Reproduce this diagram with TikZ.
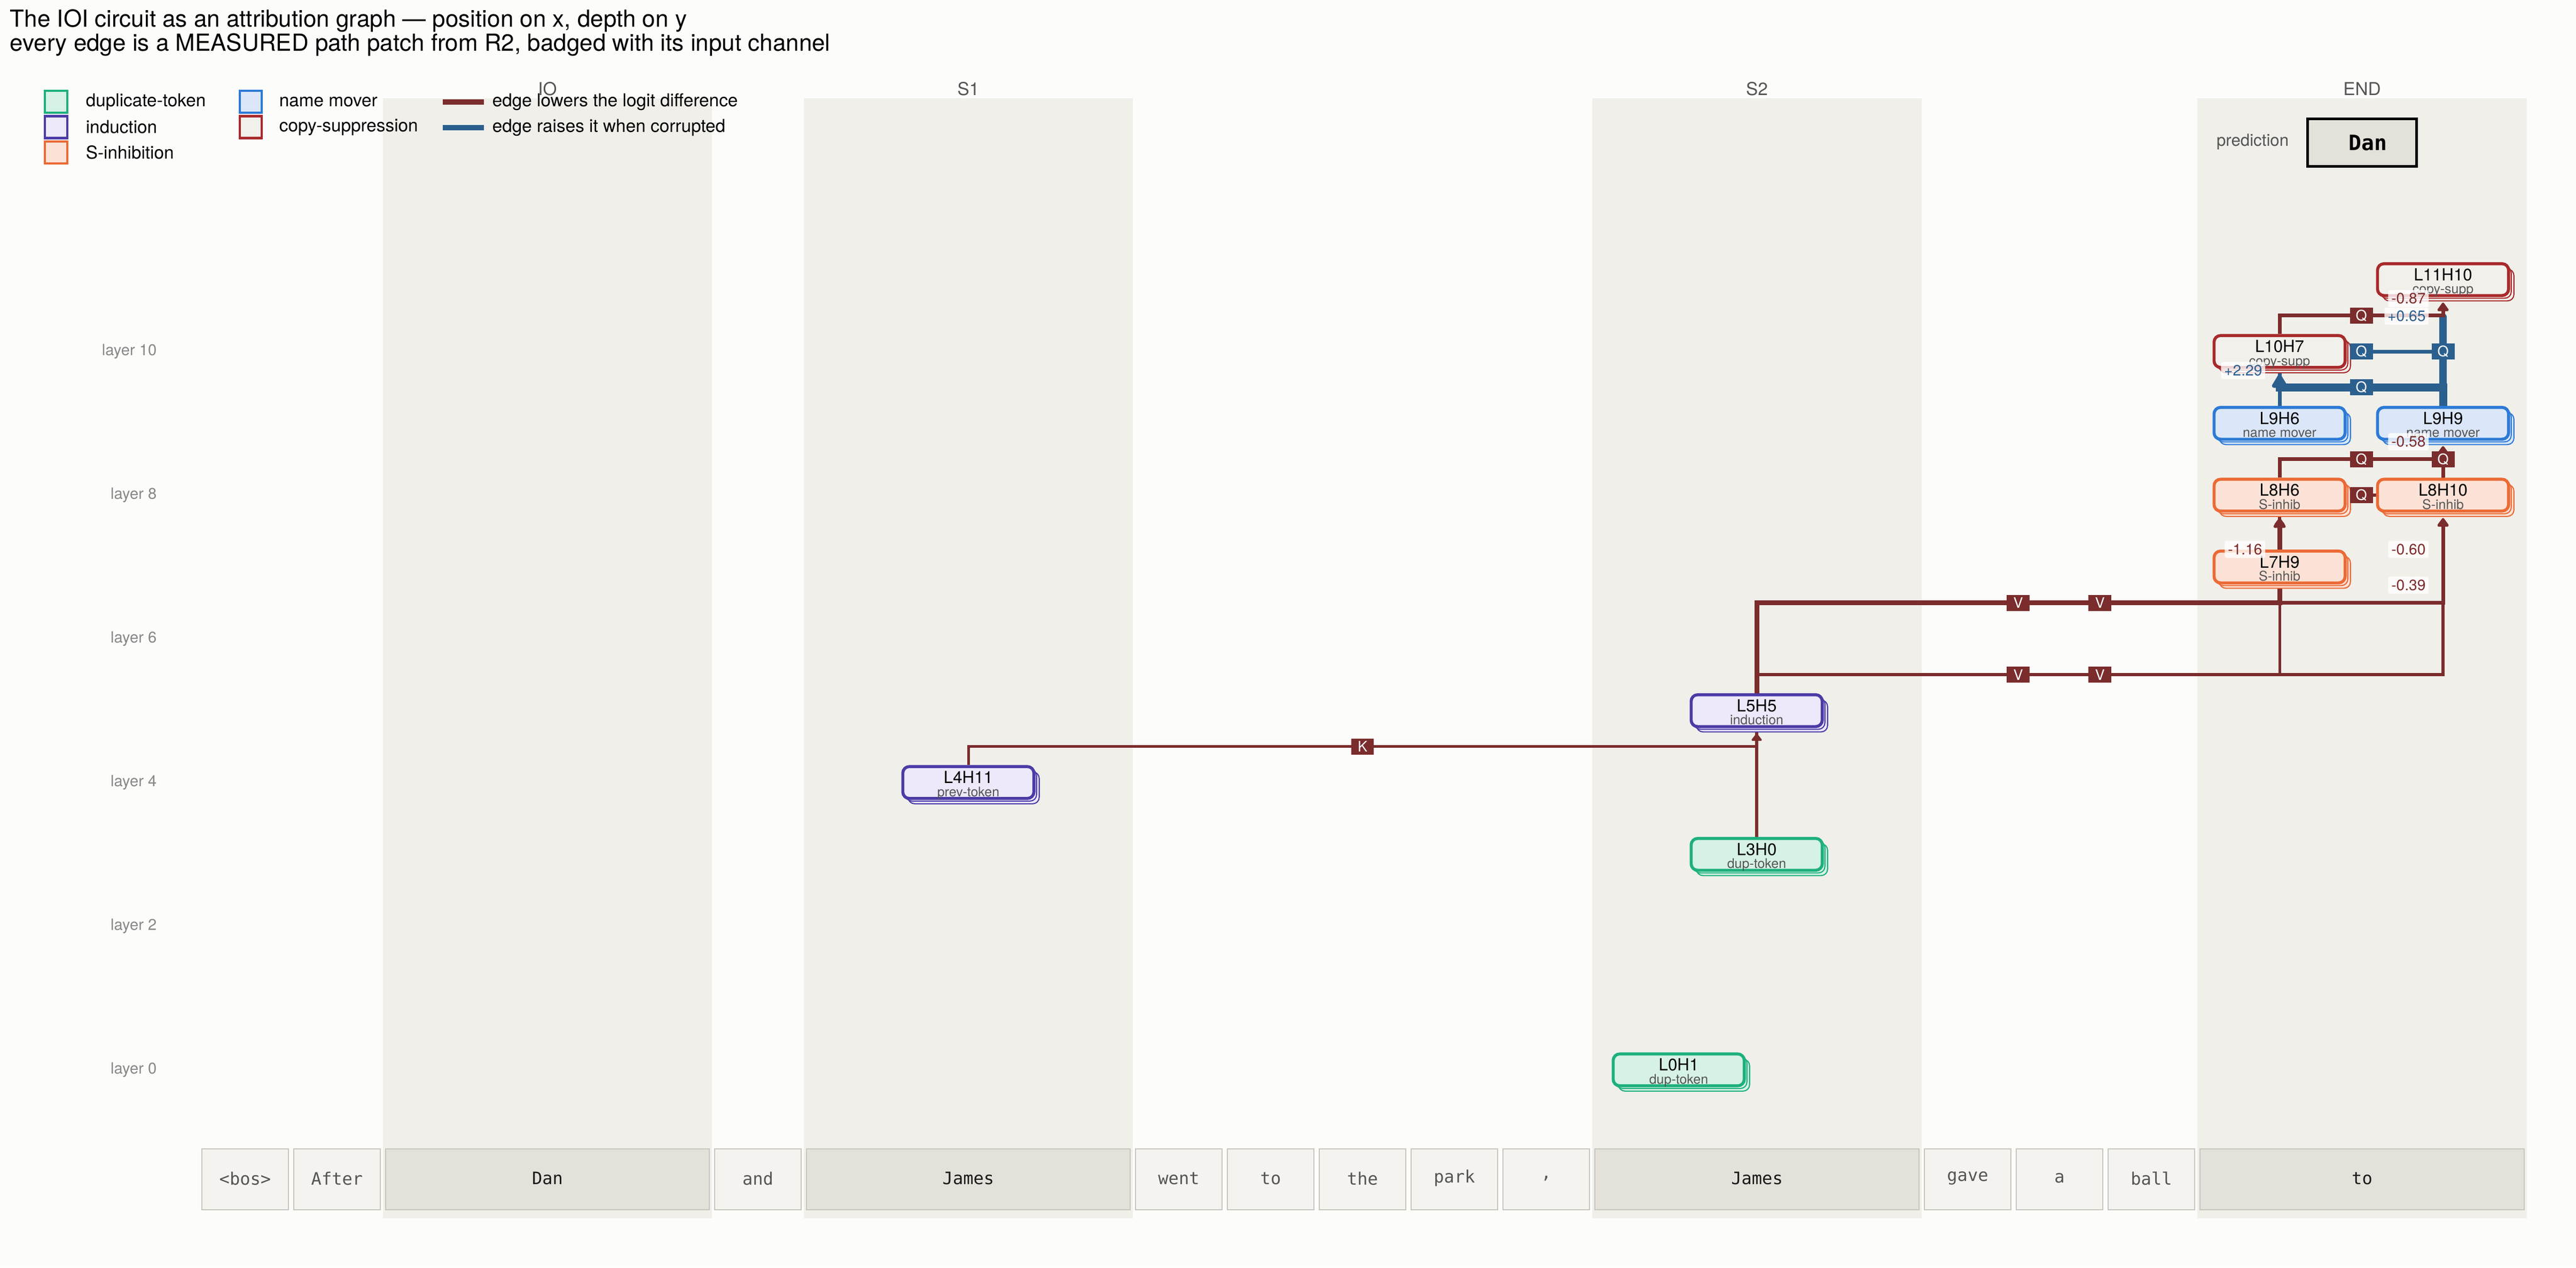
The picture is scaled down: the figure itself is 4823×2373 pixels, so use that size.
\documentclass[tikz,border=0pt]{standalone}
\usepackage{fontspec}
\setmainfont{TeX Gyre Heros}
\setmonofont{DejaVu Sans Mono}
\usetikzlibrary{calc,arrows.meta,shadows}

\definecolor{paper}{HTML}{FCFCFA}
\definecolor{band}{HTML}{F0EFEA}
\definecolor{tokfill}{HTML}{F4F3EF}
\definecolor{tokwide}{HTML}{E3E1D9}
\definecolor{tokline}{HTML}{C8C6BC}
\definecolor{inkgrey}{HTML}{555555}
\definecolor{inkdark}{HTML}{1A1A1A}
\definecolor{layergrey}{HTML}{888888}
\definecolor{edgered}{HTML}{7B2C2C}
\definecolor{edgeblue}{HTML}{2B5F8E}
\definecolor{dupline}{HTML}{1DB07D}
\definecolor{dupfill}{HTML}{D6F1E5}
\definecolor{indline}{HTML}{4B3BA6}
\definecolor{indfill}{HTML}{EDE8FA}
\definecolor{sinhline}{HTML}{EB6A35}
\definecolor{sinhfill}{HTML}{FCE2D6}
\definecolor{nmline}{HTML}{2C7AD6}
\definecolor{nmfill}{HTML}{DBE7F8}
\definecolor{csline}{HTML}{A8292B}
\definecolor{csfill}{HTML}{F2F0EB}
\definecolor{predfill}{HTML}{E4E1DA}

\newcommand{\fsz}[1]{\fontsize{#1}{#1}\selectfont}

\pgfdeclarelayer{bands}
\pgfdeclarelayer{edges}
\pgfdeclarelayer{fg}
\pgfsetlayers{bands,edges,main,fg}

\tikzset{
  headbox/.style={draw=#1line, fill=#1fill, line width=1.35pt, rounded corners=2.9pt,
    minimum width=58.9pt, minimum height=14.3pt, inner sep=0pt,
    general shadow={shadow xshift=2.4pt, shadow yshift=-2.4pt, draw=#1line, fill=#1fill, line width=0.5pt},
    general shadow={shadow xshift=1.2pt, shadow yshift=-1.2pt, draw=#1line, fill=#1fill, line width=0.5pt}},
  headname/.style={font=\fsz{7.5}, text=black, inner sep=0pt, anchor=base},
  headrole/.style={font=\fsz{6}, text=inkgrey, inner sep=0pt, anchor=base},
  badge/.style={fill=#1, text=white, font=\fsz{6.5}, minimum width=10.3pt, minimum height=7.2pt, inner sep=0pt},
  val/.style={fill=white, fill opacity=0.8, text opacity=1, text=#1, font=\fsz{6.75},
    rounded corners=0.8pt, inner xsep=1.4pt, inner ysep=0pt, minimum height=7.7pt, anchor=east},
  arrowin/.style={-{Triangle[round,length=1.9pt 1.4,width=4.1pt 1]}, shorten >=2.5pt},
  stubin/.style={line cap=round, shorten >=9pt},
  tokn/.style={draw=tokline, fill=tokfill, line width=0.48pt},
  tokw/.style={draw=tokline, fill=tokwide, line width=0.48pt},
  toktextn/.style={font=\ttfamily\fsz{7.7}, text=inkgrey},
  toktextw/.style={font=\ttfamily\fsz{7.7}, text=inkdark},
  colhead/.style={font=\fsz{8}, text=inkgrey},
  layerlab/.style={font=\fsz{7}, text=layergrey, anchor=east},
  legtext/.style={font=\fsz{8}, text=black, anchor=west, inner sep=0pt}
}

% one attention head: box with two copies behind, name and role
\newcommand{\headnode}[5]{%
  \node[headbox=#4] (#1) at (#2,#3) {};
  \node[headname] (#1n) at ([yshift=-0.36pt]#1.center) {#1};
  \node[headrole] (#1r) at ([yshift=-6.3pt]#1.center) {#5};
}

% one measured edge: up, across, up; channel badge at the middle
\newcommand{\attedge}[6]{%
  \begin{pgfonlayer}{edges}
    \draw[draw=#1, line width=#2*0.24pt, #6] (#3.north) |- ($(#3.north)!0.5!(#4.south)$) -| (#4.south);
  \end{pgfonlayer}
  \begin{pgfonlayer}{fg}
    \node[badge=#1] (b#3#4) at ($(#3.north)!0.5!(#4.south)$) {#5};
  \end{pgfonlayer}
}

\begin{document}
\begin{tikzpicture}[x=0.24pt, y=-0.24pt]
  %%%%% START %%%%%
  \useasboundingbox (0,0) rectangle (4823,2373);

  \begin{pgfonlayer}{bands}
    \fill[paper] (0,0) rectangle (4823,2373);
    \foreach \l/\r/\h [count=\i] in {717/1333/IO, 1505/2121/S1, 2981/3598/S2, 4114/4731/END} {
      \fill[band] (\l,184) rectangle (\r,2281);
      \node[colhead] (col\i) at ({(\l+\r)/2},166) {\h};
    }
  \end{pgfonlayer}

  % title
  \node[anchor=base west, font=\fsz{10.55}, inner sep=0pt] (title1) at (18,50)
    {The IOI circuit as an attribution graph — position on x, depth on y};
  \node[anchor=base west, font=\fsz{10.55}, inner sep=0pt] (title2) at (18,95)
    {every edge is a MEASURED path patch from R2, badged with its input channel};

  % legend
  \foreach \c/\t/\y [count=\i] in {dup/duplicate-token/190.5, ind/induction/238, sinh/S-inhibition/285.5} {
    \draw[draw=\c line, fill=\c fill, line width=1pt] (84,\y-20.5) rectangle (126,\y+20.5);
    \node[legtext] (lega\i) at (160,\y) {\t};
  }
  \foreach \c/\t/\y [count=\i] in {nm/name mover/190.5, cs/copy-suppression/238} {
    \draw[draw=\c line, fill=\c fill, line width=1pt] (449,\y-20.5) rectangle (490,\y+20.5);
    \node[legtext] (legb\i) at (522,\y) {\t};
  }
  \draw[edgered, line width=2.4pt] (829,191) -- (906,191);
  \node[legtext] (legc1) at (921,191) {edge lowers the logit difference};
  \draw[edgeblue, line width=2.4pt] (829,239) -- (906,239);
  \node[legtext] (legc2) at (921,239) {edge raises it when corrupted};

  % depth axis
  \foreach \L in {0,2,...,10}
    \node[layerlab] (lay\L) at (308,{2003-134.5*\L}) {layer \L};

  % prediction
  \node[font=\fsz{7.5}, text=inkgrey, anchor=east, inner sep=0pt] (predlab) at (4286,265) {prediction};
  \node[draw=black, fill=predfill, line width=1.2pt, minimum width=49pt, minimum height=21.4pt] (pred) at (4422.5,267) {};
  \node[font=\ttfamily\bfseries\fsz{9.5}, inner sep=0pt] (predtext) at ([xshift=2.6pt]pred.center) {Dan};

  % tokens
  \foreach \l/\r/\t/\k [count=\i] in {373/545/{<bos>}/n, 545/717/After/n, 717/1333/Dan/w,
      1333/1505/and/n, 1505/2121/James/w, 2121/2293/went/n, 2293/2465/to/n, 2465/2637/the/n,
      2637/2809/park/n, 2809/2981/{,}/n, 2981/3598/James/w, 3598/3770/gave/n, 3770/3942/a/n,
      3942/4114/ball/n, 4114/4731/to/w} {
    \draw[tok\k] (\l+5,2151) rectangle (\r-5,2265);
    \node[toktext\k] (tok\i) at ({(\l+\r)/2},2206) {\t};
  }

  % heads
  \headnode{L0H1}{3143}{2003}{dup}{dup-token}
  \headnode{L3H0}{3289}{1599.5}{dup}{dup-token}
  \headnode{L4H11}{1813}{1465}{ind}{prev-token}
  \headnode{L5H5}{3289}{1330.5}{ind}{induction}
  \headnode{L7H9}{4268}{1061.5}{sinh}{S-inhib}
  \headnode{L8H6}{4268}{927}{sinh}{S-inhib}
  \headnode{L8H10}{4574}{927}{sinh}{S-inhib}
  \headnode{L9H6}{4268}{792.5}{nm}{name mover}
  \headnode{L9H9}{4574}{792.5}{nm}{name mover}
  \headnode{L10H7}{4268}{658}{cs}{copy-supp}
  \headnode{L11H10}{4574}{523.5}{cs}{copy-supp}

  % edges, blue under red
  \attedge{edgeblue}{15}{L9H9}{L10H7}{Q}{arrowin}
  \attedge{edgeblue}{7}{L9H6}{L11H10}{Q}{stubin}
  \attedge{edgeblue}{14}{L9H9}{L11H10}{Q}{stubin}
  \attedge{edgered}{5}{L4H11}{L5H5}{K}{arrowin}
  \attedge{edgered}{5}{L3H0}{L8H6}{V}{arrowin}
  \attedge{edgered}{6}{L3H0}{L8H10}{V}{arrowin}
  \attedge{edgered}{9}{L5H5}{L8H6}{V}{arrowin}
  \attedge{edgered}{7}{L5H5}{L8H10}{V}{arrowin}
  \attedge{edgered}{6}{L7H9}{L9H9}{Q}{arrowin}
  \attedge{edgered}{7}{L8H6}{L9H9}{Q}{arrowin}
  \attedge{edgered}{7}{L8H10}{L9H9}{Q}{arrowin}
  \attedge{edgered}{7}{L10H7}{L11H10}{Q}{arrowin}

  % measured effects
  \begin{pgfonlayer}{fg}
    \node[val=edgered] (v1) at ($(L11H10.south)+(-26,3)$) {-0.87};
    \node[val=edgeblue] (v2) at ($(L11H10.south)+(-26,36)$) {+0.65};
    \node[val=edgeblue] (v3) at ($(L10H7.south)+(-26,3)$) {+2.29};
    \node[val=edgered] (v4) at ($(L9H9.south)+(-26,2)$) {-0.58};
    \node[val=edgered] (v5) at ($(L8H6.south)+(-26,69)$) {-1.16};
    \node[val=edgered] (v6) at ($(L8H10.south)+(-26,69)$) {-0.60};
    \node[val=edgered] (v7) at ($(L8H10.south)+(-26,136)$) {-0.39};
  \end{pgfonlayer}
  %%%%% END %%%%%
\end{tikzpicture}
\end{document}
